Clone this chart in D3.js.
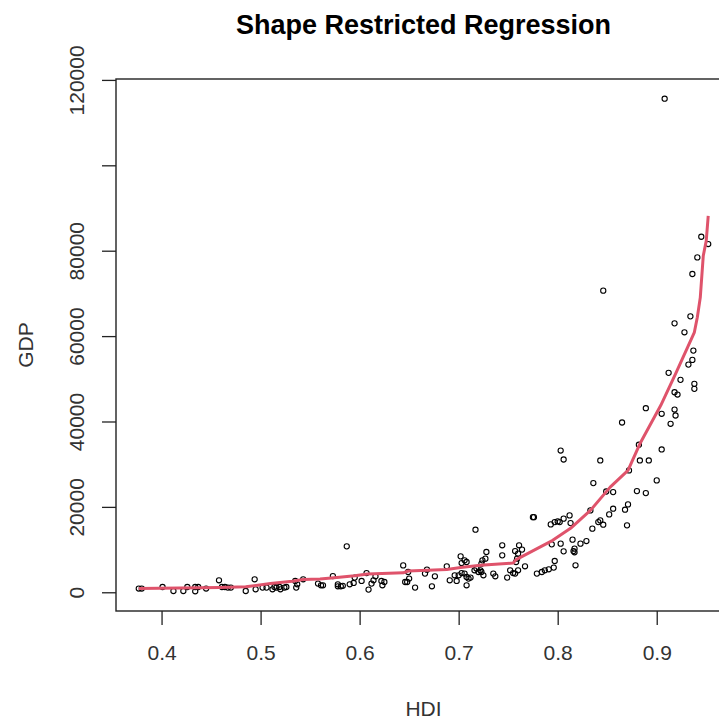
<!DOCTYPE html>
<html>
<head>
<meta charset="utf-8">
<script src="https://cdn.jsdelivr.net/npm/d3@7"></script>
<style>
  html, body { margin: 0; padding: 0; background: #fff; }
  svg { display: block; font-family: "Liberation Sans", Arial, sans-serif; }
</style>
</head>
<body>
<svg id="chart" width="719" height="719"></svg>
<script>
// ---- data ----
const hdi = [
  0.377,0.380,0.401,0.412,0.422,0.426,0.434,0.437,0.434,0.445,0.458,0.461,0.464,0.467,0.470,0.485,0.494,0.495,0.502,0.506,
  0.512,0.514,0.516,0.519,0.520,0.524,0.526,0.535,0.536,0.537,0.543,0.558,0.561,0.563,0.573,0.578,0.578,0.581,0.583,0.587,
  0.590,0.594,0.595,0.602,0.607,0.609,0.612,0.614,0.616,0.622,0.625,0.623,0.644,0.646,0.648,0.649,0.650,0.656,0.666,0.668,
  0.673,0.676,0.688,0.691,0.696,0.698,0.702,0.703,0.706,0.708,0.700,0.703,0.706,0.708,0.710,0.708,0.716,0.718,0.720,0.717,
  0.712,0.722,0.723,0.724,0.725,0.727,0.728,0.723,0.735,0.737,0.744,0.744,0.749,0.752,0.755,0.757,0.757,0.758,0.759,0.761,
  0.760,0.764,0.767,0.760,0.775,0.776,0.779,0.784,0.787,0.791,0.796,0.797,0.793,0.797,0.800,0.802,0.806,0.812,0.813,0.794,
  0.803,0.806,0.815,0.816,0.817,0.817,0.818,0.823,0.829,0.833,0.835,0.841,0.843,0.846,
  0.803,0.806,0.843,0.836,0.849,0.856,0.856,0.852,0.868,0.871,0.870,0.872,0.865,0.846,0.880,0.889,0.882,0.883,0.892,0.889,
  0.900,0.905,0.905,0.908,0.914,0.918,0.919,0.912,0.918,0.921,0.924,0.918,0.928,0.934,0.937,0.936,0.932,0.938,0.938,0.936,
  0.941,0.945,0.952
];
const gdp = [
  870,870,1240,300,300,1240,1240,1240,230,870,2800,1240,1240,1100,1100,300,3040,700,1100,1100,
  700,1240,1100,1240,700,1100,1240,2650,1100,1870,3040,2030,1640,1640,3800,1870,1400,1400,1520,10760,
  1870,2180,3440,2650,4500,630,2030,2800,3740,2650,2410,1640,6300,2410,2410,4750,3200,1100,4370,5300,
  1400,3740,6080,2800,3980,2650,8420,6850,7480,7090,3980,4500,4370,3580,3200,1640,5150,5540,4750,14660,
  3440,5150,6710,7480,3980,7880,9430,4750,4370,3740,11000,8650,3440,5150,4500,4370,9660,7090,7880,11000,
  9050,9990,6080,5150,17600,17600,4370,4750,5150,5380,5780,7320,15900,16440,16600,16440,17240,18000,16200,11230,
  11390,9590,12330,9660,10220,9360,6320,11390,12000,19180,14900,16440,16840,15830,
  33200,31100,30870,25570,23600,23460,19580,18240,19340,20580,15670,28540,39760,70640,23700,23230,34550,30870,30870,43110,
  26200,33450,41800,115600,39460,42800,41400,51390,46850,46310,49750,62990,60890,64630,56600,54430,53330,48820,47650,74540,
  78430,83270,81560
];
// fitted shape-restricted regression (sorted by HDI)
const fitHDI = [0.377,0.459,0.485,0.510,0.532,0.543,0.560,0.577,0.595,0.608,0.644,0.649,0.688,0.702,0.722,0.755,0.758,0.795,0.813,0.833,0.853,0.871,0.883,0.904,0.919,0.938,0.941,0.944,0.947,0.950,0.952];
const fitGDP = [865,1100,1290,2030,2570,2970,3110,3440,3860,4260,4560,4980,5310,5780,6320,6850,7650,12160,14970,19180,24630,28540,34780,43740,51150,60890,64400,69070,78820,82330,88180];
const xTicks = [0.4,0.5,0.6,0.7,0.8,0.9];
const yTicks = [0,20000,40000,60000,80000,100000,120000];
const yTickLabels = ["0","20000","40000","60000","80000","","120000"];
const titleText = "Shape Restricted Regression";
const xLabel = "HDI";
const yLabel = "GDP";

// ---- layout ----
const svg = d3.select("#chart");
const mLeft = 116, mTop = 79, mBottom = 611, mRight = 731;

function ext(v) { const [a,b] = d3.extent(v); const d = (b-a)*0.04; return [a-d, b+d]; }
const x = d3.scaleLinear().domain(ext(hdi)).range([mLeft, mRight]);
const y = d3.scaleLinear().domain(ext(gdp)).range([mBottom, mTop]);

// points
svg.append("g").selectAll("circle").data(hdi.map((h,i)=>[h,gdp[i]])).join("circle")
  .attr("cx", d=>x(d[0])).attr("cy", d=>y(d[1])).attr("r", 2.6)
  .attr("fill","none").attr("stroke","#000").attr("stroke-width",1.1);

// fit line
const line = d3.line().x(d=>x(d[0])).y(d=>y(d[1]));
svg.append("path").datum(fitHDI.map((h,i)=>[h,fitGDP[i]]))
  .attr("d", line).attr("fill","none").attr("stroke","#DF536B").attr("stroke-width",3)
  .attr("stroke-linejoin","round");

// box
svg.append("rect").attr("x", mLeft).attr("y", mTop).attr("width", mRight-mLeft).attr("height", mBottom-mTop)
  .attr("fill","none").attr("stroke","#222").attr("stroke-width",1.4);

// x axis
const xAxis = d3.axisBottom(x).tickValues(xTicks).tickSize(14).tickPadding(20).tickFormat(d3.format(".1f"));
const gx = svg.append("g").attr("transform", `translate(0,${mBottom})`).call(xAxis);
gx.select(".domain").remove();
gx.selectAll("line").attr("stroke","#222").attr("stroke-width",1.3);
gx.selectAll("text").attr("font-size",21).attr("fill","#333").attr("font-family","Liberation Sans, Arial, sans-serif");

// y axis
const yAxis = d3.axisLeft(y).tickValues(yTicks).tickSize(14).tickFormat((d,i)=>yTickLabels[i]);
const gy = svg.append("g").attr("transform", `translate(${mLeft},0)`).call(yAxis);
gy.select(".domain").remove();
gy.selectAll("line").attr("stroke","#222").attr("stroke-width",1.3);
gy.selectAll("text")
  .attr("font-size",21).attr("fill","#333").attr("font-family","Liberation Sans, Arial, sans-serif")
  .attr("x",null).attr("dy",null)
  .attr("text-anchor","middle")
  .attr("transform","translate(-32,0) rotate(-90)");

// titles
svg.append("text").attr("x",(mLeft+mRight)/2).attr("y",34).attr("text-anchor","middle")
  .attr("font-size",27).attr("font-weight","bold").attr("fill","#000").text(titleText);
svg.append("text").attr("x",(mLeft+mRight)/2).attr("y",716).attr("text-anchor","middle")
  .attr("font-size",21).attr("fill","#333").text(xLabel);
svg.append("text").attr("transform",`translate(33,${(mTop+mBottom)/2}) rotate(-90)`).attr("text-anchor","middle")
  .attr("font-size",21).attr("fill","#333").text(yLabel);
</script>
</body>
</html>
